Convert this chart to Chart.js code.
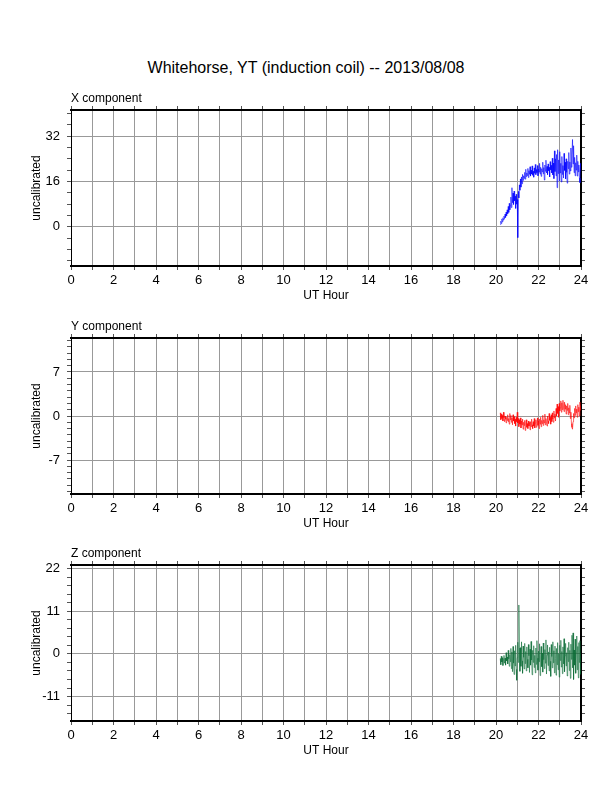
<!DOCTYPE html>
<html>
<head>
<meta charset="utf-8">
<script src="https://cdn.jsdelivr.net/npm/chart.js@4.4.0/dist/chart.umd.min.js"></script>
<style>
  body { margin: 0; width: 612px; height: 792px; background: #fff; position: relative; overflow: hidden;
         font-family: "Liberation Sans", Arial, sans-serif; }
  #title { position: absolute; left: 0; top: 57px; width: 612px; text-align: center;
           font-size: 16px; line-height: 22px; color: #000; }
  canvas { position: absolute; left: 0; }
</style>
</head>
<body>
<div id="title">Whitehorse, YT (induction coil) -- 2013/08/08</div>
<canvas id="chartX" width="612" height="231" style="top:80px"></canvas>
<canvas id="chartY" width="612" height="231" style="top:308px"></canvas>
<canvas id="chartZ" width="612" height="231" style="top:535px"></canvas>
<script>
// samples start at 20.2 UT and come every 0.025 h
const startHour = 20.2;
const stepHour = 0.025;

// X component (blue)
const xComponent = [
  0.8, 2.0, 1.2, 2.8, 1.8, 3.2, 2.4, 3.8, 2.9, 4.5, 3.3, 5.2, 3.9, 6.0, 4.6, 7.2,
  5.1, 8.3, 6.0, 7.5, 10.5, 6.8, 13.8, 8.5, 11.9, 7.9, 12.6, 9.2, 10.8, 6.5, 11.5, 8.0,
  9.6, -3.8, 12.5, 10.2, 14.8, 12.9, 16.9, 14.0, 17.6, 15.2, 18.5, 16.4, 18.0, 17.1, 19.2, 16.8,
  20.3, 17.7, 19.0, 18.1, 20.6, 17.4, 19.8, 18.5, 21.2, 17.9, 20.0, 18.6, 21.5, 18.2, 19.6, 17.5,
  20.8, 18.9, 22.0, 18.4, 20.2, 19.1, 21.6, 18.0,
  20.4, 19.3, 22.4, 18.6, 21.0, 17.8, 20.5, 19.4, 22.8, 18.7, 20.9, 16.5, 21.8, 19.6, 23.5, 19.0,
  21.3, 18.4, 22.2, 19.8, 21.0, 17.6, 23.0, 20.1, 21.7, 19.0, 24.2, 18.3, 22.5, 17.0, 26.8, 19.5,
  24.0, 18.0, 25.5, 13.8, 27.2, 18.8, 23.6, 16.2,
  26.5, 19.0, 22.4, 15.8, 24.8, 18.5, 21.6, 17.2, 25.9, 19.9, 22.8, 16.9, 24.0, 19.2, 15.4, 23.1,
  20.5, 26.2, 18.6, 22.9, 19.7, 27.8, 21.0, 25.4, 30.8, 22.2, 28.6, 19.1, 24.5, 18.0, 22.6, 20.0,
  25.3, 17.9, 23.1, 19.4, 21.8, 17.2, 15.6, 22.4, 19.5
];

// Y component (red)
const yComponent = [
  0.5, -0.6, 0.3, -0.4, 0.1, -0.8, 0.6, -0.3, -0.9, 0.0, -0.5, -1.1, -0.2, -0.7, 0.2, -0.9,
  -0.4, -1.3, 0.4, -0.6, 0.1, -1.0, -0.3, -1.4, 0.2, -0.8, -0.1, -1.2, -0.5, -1.6, -0.2, -0.9,
  0.6, -1.1, -0.4, -1.7, -0.6, -1.3, -0.3, -1.9, -0.8, -1.4, -0.5, -2.1, -1.0, -1.5, -0.7, -2.3,
  -1.1, -0.6, -1.8, -1.2, -2.0, -0.8, -1.6, -1.0, -2.2, -0.9, -1.7, -0.5, -1.4, -2.0, -0.9, -1.6,
  -0.4, -1.9, -1.1, -0.6, -1.8, -1.0, -0.3, -1.5,
  -0.8, -2.0, -0.5, -1.3, -0.2, -1.7, -0.7, -1.2, 0.1, -1.5, -0.6, -1.1, 0.3, -1.4, -0.4, -0.9,
  -1.6, 0.0, -0.8, -1.2, 0.4, -0.7, -0.2, -1.3, 0.2, -0.9, 0.5, -0.5, -1.0, 0.8, -0.3, 0.3,
  -0.8, 1.2, 0.0, 1.9, 0.4, 1.5, -0.2, 2.0,
  0.8, 1.3, 2.4, 0.6, 2.1, 1.0, 2.5, 1.4, 0.7, 2.2, 1.1, 1.8, 0.3, 1.6, 0.9, 2.0,
  0.2, 1.3, 0.5, 1.7, -0.4, 0.6, -1.2, -1.8, -2.1, -0.9, 0.4, -0.3, 1.2, 0.1, 1.6, 0.5,
  1.1, -0.2, 1.8, 0.7, 1.4, 0.0, 2.2, 0.9, 1.7
];

// Z component (green)
const zComponent = [
  -1.2, -2.8, -0.6, -2.1, -1.0, -3.0, -1.5, -0.4, -2.4, -1.1, -2.9, 0.3, -1.8, -0.8, -2.6, 0.9,
  -1.3, -3.2, -0.2, -2.0, 1.4, -3.8, 0.5, -4.6, 1.9, -2.4, -5.3, 0.8, -3.1, 2.2, -4.0, -6.8,
  -1.0, 3.0, -2.2, 12.6, 1.5, -4.5, 1.6, -3.2, 3.1, -1.8, -5.0, 2.0, -0.9, -3.9, 2.7, -2.5,
  0.6, -4.4, 1.8, -1.4, -3.6, 2.4, -0.5, -4.8, 1.2, -2.9, 3.2, -1.6, -5.4, 0.9, -2.2, 2.1,
  -3.5, -0.4, -4.9, 1.5, -2.7, 3.4, -1.1, -4.2,
  0.7, -2.0, 2.6, -5.6, -0.8, 1.9, -3.3, 0.2, -4.7, 2.8, -1.5, -3.8, 1.1, -2.4, 3.6, -5.2,
  -0.3, 2.3, -3.0, 0.5, -4.4, 1.7, -1.9, -5.8, 2.4, -0.7, -3.6, 3.1, -2.3, 0.8, -4.9, 2.0,
  -1.2, -5.5, 1.4, -2.8, 2.9, -4.1, 0.1, -6.0,
  2.2, -1.7, 3.5, -3.4, 0.6, -5.1, 1.8, -2.6, 3.9, -4.6, -0.5, 2.7, -3.1, 0.3, -5.7, 1.6,
  -2.0, 3.0, -4.3, 0.9, -6.3, 2.5, -1.4, 4.8, -3.6, 5.4, -6.6, 1.0, -2.9, 3.8, -5.0, 0.4,
  4.6, -4.1, 1.9, -6.2, 2.9, -2.2, 3.4, -5.3, 0.2
];

const hours = xComponent.map((_, i) => startHour + i * stepHour);

const fontFamily = '"Liberation Sans", Arial, sans-serif';

// draws the "X component" style label above the plot frame
const panelLabel = {
  id: 'panelLabel',
  afterDraw(chart, args, opts) {
    const ctx = chart.ctx;
    const area = chart.chartArea;
    ctx.save();
    ctx.font = '12px ' + fontFamily;
    ctx.fillStyle = '#000';
    ctx.textAlign = 'left';
    ctx.textBaseline = 'alphabetic';
    ctx.fillText(opts.text, area.left, area.top - 8);
    ctx.restore();
  }
};

function makePanel(id, label, values, color, yMin, yMax, minorStep, majorStep) {
  const points = values.map((v, i) => ({ x: hours[i], y: v }));
  const isMajor = v => Math.abs(v / majorStep - Math.round(v / majorStep)) < 1e-6;

  return new Chart(document.getElementById(id), {
    type: 'line',
    data: {
      datasets: [{
        data: points,
        borderColor: color,
        borderWidth: 0.6,
        pointRadius: 0,
        fill: false,
        tension: 0
      }]
    },
    options: {
      responsive: false,
      animation: false,
      layout: { padding: 0 },
      plugins: {
        legend: { display: false },
        tooltip: { enabled: false },
        panelLabel: { text: label }
      },
      scales: {
        x: {
          type: 'linear', position: 'bottom', min: 0, max: 24,
          ticks: {
            stepSize: 1, autoSkip: false, maxRotation: 0, padding: 3, color: '#000',
            font: { size: 13, family: fontFamily },
            callback: v => (v % 2 === 0 ? String(v) : '')
          },
          grid: { color: '#999', lineWidth: 1, tickLength: 4, tickColor: '#555' },
          border: { color: '#000', width: 2 },
          title: {
            display: true, text: 'UT Hour', color: '#000',
            font: { size: 12, family: fontFamily }, padding: { top: 0, bottom: 8 }
          },
          afterFit: s => { s.height = 45; }
        },
        x2: {
          type: 'linear', position: 'top', min: 0, max: 24,
          ticks: { stepSize: 1, autoSkip: false, display: false },
          grid: { drawOnChartArea: false, tickLength: 4, tickColor: '#555' },
          border: { color: '#000', width: 2 },
          afterFit: s => { s.height = 30; }
        },
        y: {
          type: 'linear', position: 'left', min: yMin, max: yMax,
          ticks: {
            stepSize: minorStep, includeBounds: false, autoSkip: false, padding: 7, color: '#000',
            font: { size: 13, family: fontFamily },
            callback: v => (isMajor(v) ? String(Math.round(v)) : '')
          },
          grid: {
            color: c => (c.tick && isMajor(c.tick.value) ? '#999' : 'rgba(0,0,0,0)'),
            tickColor: '#555', tickLength: 4
          },
          border: { color: '#000', width: 1 },
          title: {
            display: true, text: 'uncalibrated', color: '#000',
            font: { size: 12, family: fontFamily }, padding: { top: 29, bottom: 0 }
          },
          afterFit: s => { s.width = 71; }
        },
        y2: {
          type: 'linear', position: 'right', min: yMin, max: yMax,
          ticks: { stepSize: minorStep, includeBounds: false, autoSkip: false, display: false },
          grid: { drawOnChartArea: false, tickLength: 4, tickColor: '#555' },
          border: { color: '#000', width: 2 },
          afterFit: s => { s.width = 31; }
        }
      }
    },
    plugins: [panelLabel]
  });
}

makePanel('chartX', 'X component', xComponent, '#0000ff', -13.8, 41.2, 4, 16);
makePanel('chartY', 'Y component', yComponent, '#ff0000', -12.4, 12.4, 1, 7);
makePanel('chartZ', 'Z component', zComponent, '#0b6b35', -17.3, 22.9, 2.2, 11);
</script>
</body>
</html>
